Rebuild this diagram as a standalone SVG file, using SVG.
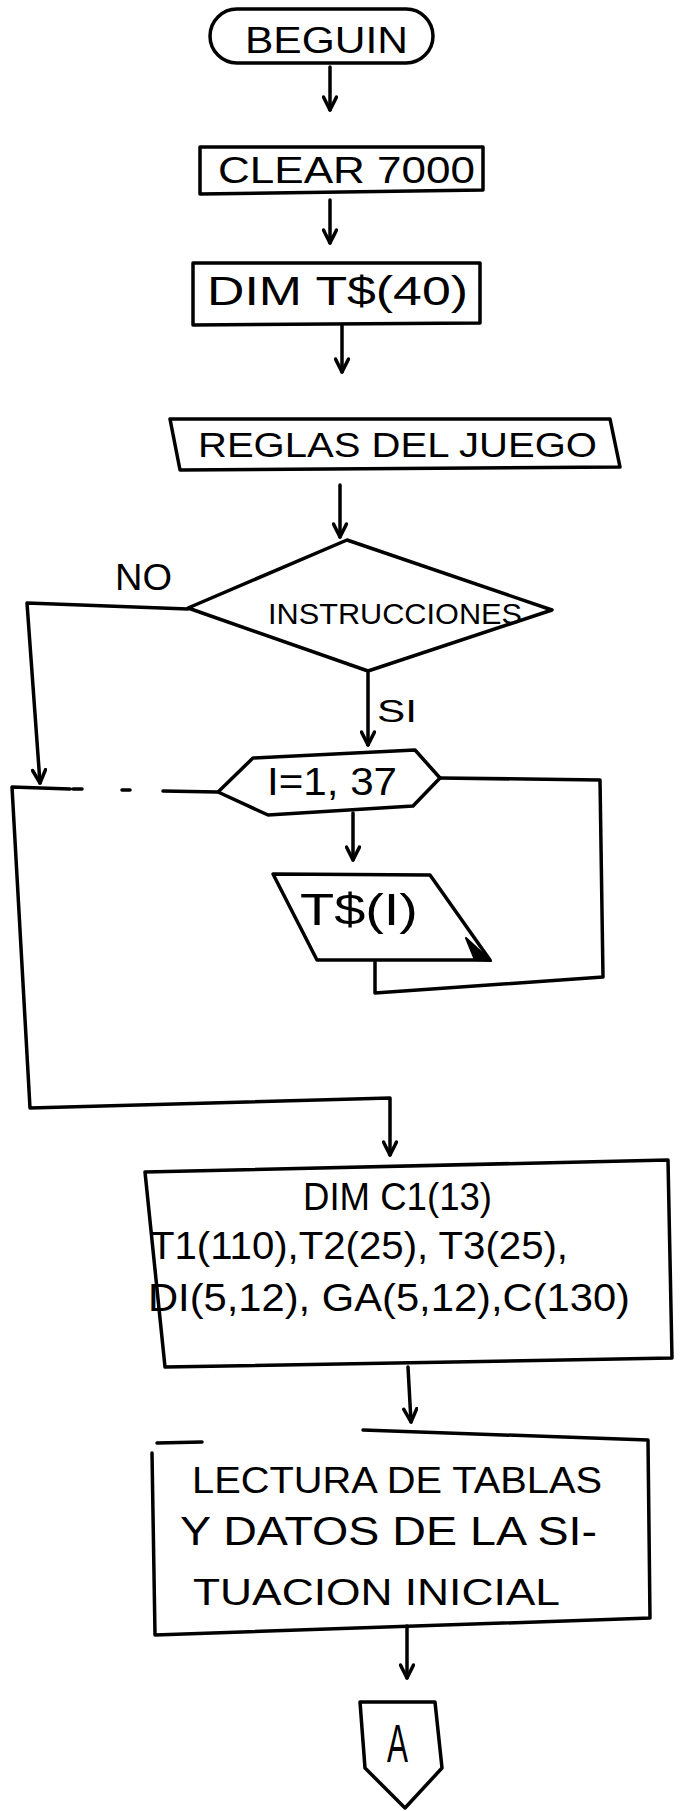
<svg xmlns="http://www.w3.org/2000/svg" width="683" height="1811" viewBox="0 0 683 1811">
<style>
.s{fill:none;stroke:#000;stroke-width:3.5;stroke-linejoin:round;stroke-linecap:round}
.c{fill:none;stroke:#000;stroke-width:3.5;stroke-linecap:round;stroke-linejoin:round}
.t{font-family:"Liberation Sans",Arial,sans-serif;fill:#000}
</style>
<defs>
<marker id="ah" viewBox="-15 -8 17 16" markerWidth="17" markerHeight="16" refX="0" refY="0" orient="auto" markerUnits="userSpaceOnUse">
<path d="M-13,-6.5 L0,0 L-13,6.5" fill="none" stroke="#000" stroke-width="3.5" stroke-linecap="round" stroke-linejoin="round"/>
</marker>
</defs>
<rect width="683" height="1811" fill="#fff"/>

<g id="begin">
<rect class="s" x="210" y="9" width="223" height="54" rx="27" ry="27"/>
<text class="t" x="245" y="53" font-size="36" textLength="163" lengthAdjust="spacingAndGlyphs">BEGUIN</text>
</g>

<g id="clear">
<polygon class="s" points="200,147 483,147 483,190 200,194"/>
<text class="t" x="218" y="183" font-size="36" textLength="257" lengthAdjust="spacingAndGlyphs">CLEAR 7000</text>
</g>

<g id="dimT">
<polygon class="s" points="193,263 480,263 480,323 193,325"/>
<text class="t" x="207" y="305" font-size="40" textLength="261" lengthAdjust="spacingAndGlyphs">DIM T$(40)</text>
</g>

<g id="reglas">
<polygon class="s" points="170,419 610,419 620,467 180,470"/>
<text class="t" x="198" y="457" font-size="35" textLength="399" lengthAdjust="spacingAndGlyphs">REGLAS DEL JUEGO</text>
</g>

<g id="instrucciones">
<polygon class="s" points="347,540 552,610 368,671 188,608"/>
<text class="t" x="268" y="624" font-size="30" textLength="254" lengthAdjust="spacingAndGlyphs">INSTRUCCIONES</text>
</g>

<g id="loop">
<polygon class="s" points="218,792 253,758 415,750 440,778 413,806 268,815"/>
<text class="t" x="267" y="795" font-size="38" textLength="130" lengthAdjust="spacingAndGlyphs">I=1, 37</text>
</g>

<g id="print">
<polygon class="s" points="273,874 430,875 490,960 317,960"/>
<polygon points="466,938 491,961 475,960" fill="#000" stroke="#000" stroke-width="2" stroke-linejoin="round"/>
<text class="t" x="300" y="925" font-size="44" textLength="118" lengthAdjust="spacingAndGlyphs">T$(I)</text>
</g>

<g id="dimC">
<polygon class="s" points="145,1172 668,1160 672,1358 165,1367"/>
<text class="t" x="303" y="1210" font-size="38" textLength="189" lengthAdjust="spacingAndGlyphs">DIM C1(13)</text>
<text class="t" x="150" y="1259" font-size="38" textLength="418" lengthAdjust="spacingAndGlyphs">T1(110),T2(25), T3(25),</text>
<text class="t" x="148" y="1311" font-size="38" textLength="482" lengthAdjust="spacingAndGlyphs">DI(5,12), GA(5,12),C(130)</text>
</g>

<g id="lectura">
<path class="s" d="M157,1443 L202,1442 M363,1430 L648,1440 L650,1618 L155,1635 L152,1453"/>
<text class="t" x="192" y="1493" font-size="36" textLength="410" lengthAdjust="spacingAndGlyphs">LECTURA DE TABLAS</text>
<text class="t" x="180" y="1545" font-size="40" textLength="417" lengthAdjust="spacingAndGlyphs">Y DATOS DE LA SI-</text>
<text class="t" x="193" y="1605" font-size="36" textLength="367" lengthAdjust="spacingAndGlyphs">TUACION INICIAL</text>
</g>

<g id="connectorA">
<polygon class="s" points="360,1702 435,1702 442,1768 405,1808 365,1768"/>
<text class="t" x="387" y="1762" font-size="54" textLength="21" lengthAdjust="spacingAndGlyphs">A</text>
</g>

<g id="connectors">
<path class="c" d="M330,67 L330,110" marker-end="url(#ah)"/>
<path class="c" d="M330,200 L330,243" marker-end="url(#ah)"/>
<path class="c" d="M342,325 L342,372" marker-end="url(#ah)"/>
<path class="c" d="M340,485 L340,537" marker-end="url(#ah)"/>
<path class="c" d="M188,609 L27,603 L40,783" marker-end="url(#ah)"/>
<path class="c" d="M368,673 L368,745" marker-end="url(#ah)"/>
<path class="c" d="M353,813 L353,860" marker-end="url(#ah)"/>
<path class="c" d="M440,778 L600,780 L603,977 L375,993 L375,962"/>
<path class="c" d="M218,792 L163,791 M130,790 L122,790 M82,789 L73,789 M70,789 L12,787 L30,1108 L390,1098 L390,1155" marker-end="url(#ah)"/>
<path class="c" d="M408,1367 L411,1422" marker-end="url(#ah)"/>
<path class="c" d="M407,1626 L407,1678" marker-end="url(#ah)"/>
<text class="t" x="115" y="590" font-size="36" textLength="57" lengthAdjust="spacingAndGlyphs">NO</text>
<text class="t" x="377" y="722" font-size="32" textLength="40" lengthAdjust="spacingAndGlyphs">SI</text>
</g>
</svg>
